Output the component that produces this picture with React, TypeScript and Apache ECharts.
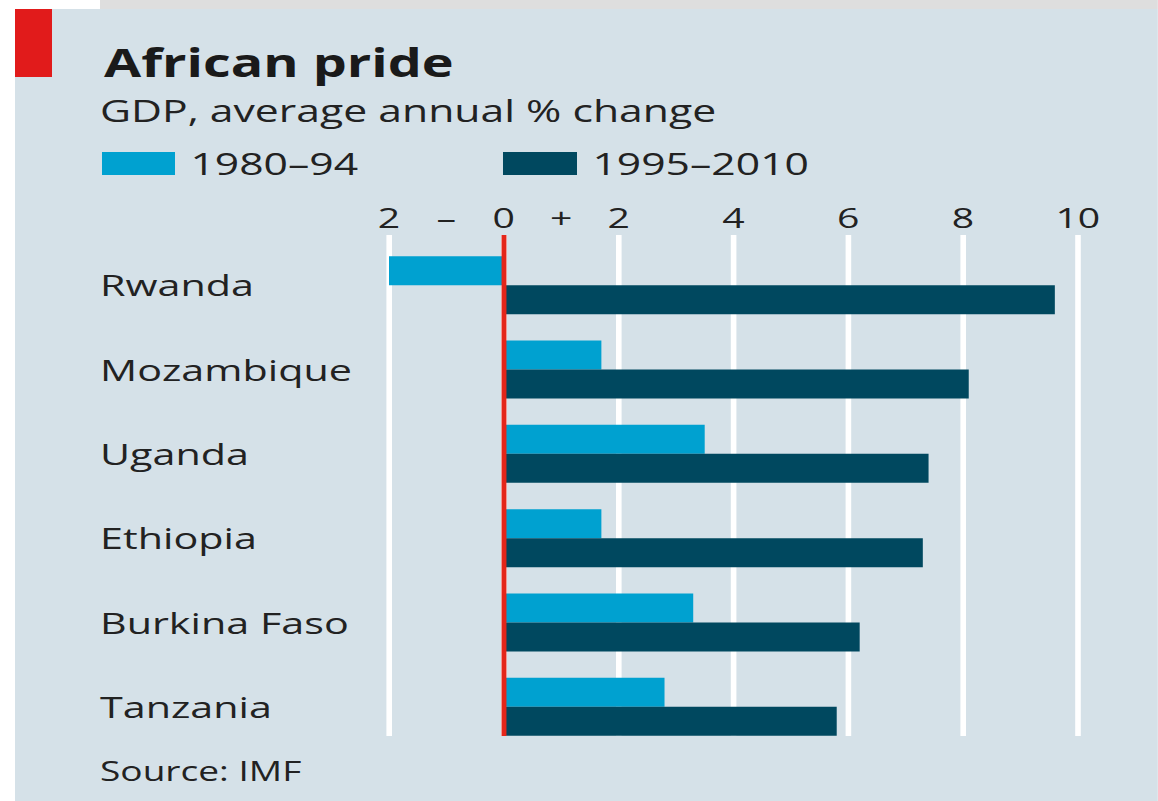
import React, { useEffect, useRef } from "react";
import * as echarts from "echarts";

// Data
const countries = ["Rwanda", "Mozambique", "Uganda", "Ethiopia", "Burkina Faso", "Tanzania"];
const period1994 = [-2.0, 1.7, 3.5, 1.7, 3.3, 2.8];
const period2010 = [9.6, 8.1, 7.4, 7.3, 6.2, 5.8];
const seriesNames = ["1980–94", "1995–2010"];
const tickLabels: Record<string, string> = {
  "-2": "2",
  "-1": "–",
  "0": "0",
  "1": "+",
  "2": "2",
  "4": "4",
  "6": "6",
  "8": "8",
  "10": "10",
};
const titleText = "African pride";
const subtitleText = "GDP, average annual % change";
const sourceText = "Source: IMF";

// Layout (the reference image is horizontally stretched)
const S = 1.4;
const W = 1158;
const H = 801;
const px = (v: number) => v / S;
const FONT = '"Open Sans", "Noto Sans", sans-serif';
const TEXT = "#222222";

export default function App() {
  const ref = useRef<HTMLDivElement>(null);

  useEffect(() => {
    if (!ref.current) return;
    const chart = echarts.init(ref.current, null, { renderer: "svg" });
    const legendText = { fontFamily: FONT, fontSize: 30.5, color: TEXT, lineHeight: 23, padding: [0, 0, 0, 6] };
    const option: any = {
      animation: false,
      backgroundColor: "#ffffff",
      graphic: [
        { type: "rect", z: -10, shape: { x: px(100), y: 0, width: px(W - 100), height: 9 }, style: { fill: "#dedede" } },
        { type: "rect", z: -10, shape: { x: px(15), y: 9, width: px(W - 15), height: H - 9 }, style: { fill: "#d5e1e8" } },
        { type: "rect", shape: { x: px(15), y: 9, width: px(37), height: 68 }, style: { fill: "#e11b1b" } },
        {
          type: "text",
          x: px(104),
          y: 62,
          style: { text: titleText, fontFamily: FONT, fontWeight: "bold", fontSize: 38.5, fill: "#1a1a1a", verticalAlign: "middle" },
        },
        {
          type: "text",
          x: px(100),
          y: 110,
          style: { text: subtitleText, fontFamily: FONT, fontSize: 30.5, fill: TEXT, verticalAlign: "middle" },
        },
        {
          type: "text",
          x: px(100),
          y: 771,
          style: { text: sourceText, fontFamily: FONT, fontSize: 26.5, fill: TEXT, verticalAlign: "middle" },
        },
      ],
      legend: [
        {
          data: [seriesNames[0]],
          left: px(102),
          top: 148,
          padding: 0,
          icon: "rect",
          itemWidth: px(73),
          itemHeight: 23,
          selectedMode: false,
          textStyle: legendText,
        },
        {
          data: [seriesNames[1]],
          left: px(503),
          top: 148,
          padding: 0,
          icon: "rect",
          itemWidth: px(74),
          itemHeight: 23,
          selectedMode: false,
          textStyle: legendText,
        },
      ],
      grid: [
        { left: px(389), right: px(W - 1078), top: 243, bottom: 52 },
        { left: px(389), right: px(W - 1078), top: 235, bottom: 65 },
      ],
      xAxis: [
        {
          gridIndex: 0,
          type: "value",
          position: "top",
          min: -2,
          max: 10,
          interval: 1,
          axisLine: { show: false },
          axisTick: { show: false },
          splitLine: { show: false },
          axisLabel: {
            formatter: (v: number) => tickLabels[String(v)] ?? "",
            fontFamily: FONT,
            fontSize: 28,
            color: TEXT,
            margin: 12,
          },
        },
        {
          gridIndex: 1,
          type: "value",
          min: -2,
          max: 10,
          interval: 2,
          axisLine: { show: false },
          axisTick: { show: false },
          axisLabel: { show: false },
          splitLine: { show: true, lineStyle: { color: "#ffffff", width: 4 } },
        },
      ],
      yAxis: [
        {
          gridIndex: 0,
          type: "category",
          data: countries,
          inverse: true,
          axisLine: { show: false },
          axisTick: { show: false },
          splitLine: { show: false },
          axisLabel: {
            align: "left",
            margin: px(389 - 100),
            fontFamily: FONT,
            fontSize: 29.5,
            color: TEXT,
          },
        },
        { gridIndex: 1, type: "value", min: 0, max: 1, show: false },
      ],
      series: [
        {
          type: "bar",
          name: seriesNames[0],
          data: period1994,
          xAxisIndex: 0,
          yAxisIndex: 0,
          barWidth: 29,
          barGap: "0%",
          itemStyle: { color: "#00a1d0" },
          z: 3,
        },
        {
          type: "bar",
          name: seriesNames[1],
          data: period2010,
          xAxisIndex: 0,
          yAxisIndex: 0,
          barWidth: 29,
          barGap: "0%",
          itemStyle: { color: "#00485f" },
          z: 3,
        },
        {
          type: "line",
          xAxisIndex: 1,
          yAxisIndex: 1,
          data: [],
          z: 6,
          markLine: {
            silent: true,
            symbol: "none",
            label: { show: false },
            lineStyle: { color: "#e4261a", width: 3.5, type: "solid" },
            data: [{ xAxis: 0 }],
          },
        },
      ],
    };
    chart.setOption(option);
    return () => chart.dispose();
  }, []);

  return (
    <div
      style={{
        position: "fixed",
        left: 0,
        top: 0,
        width: W,
        height: H,
        overflow: "hidden",
        background: "#ffffff",
      }}
    >
      <div
        ref={ref}
        style={{
          width: W / S,
          height: H,
          transform: `scaleX(${S})`,
          transformOrigin: "0 0",
        }}
      />
    </div>
  );
}
